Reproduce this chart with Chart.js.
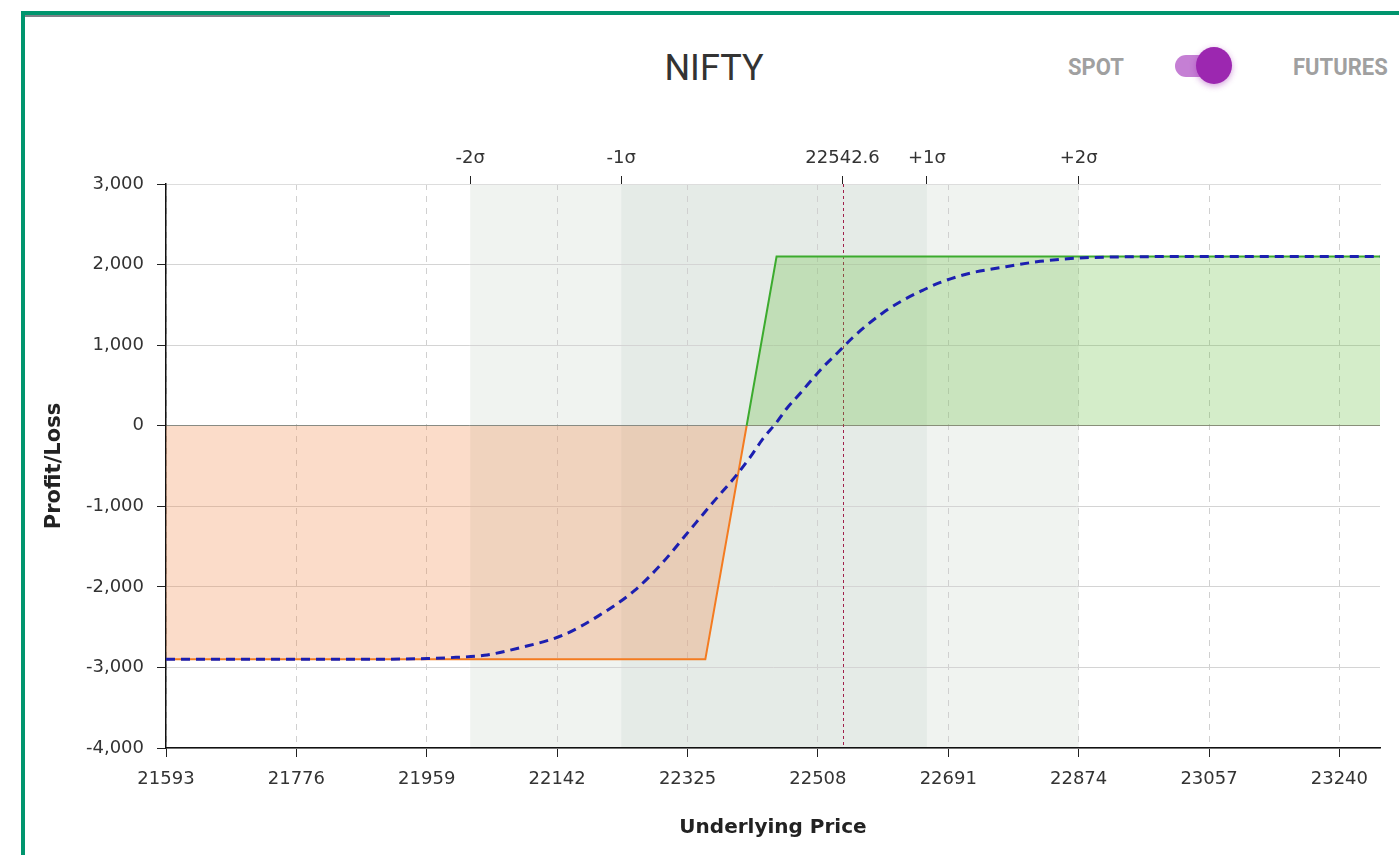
<!DOCTYPE html>
<html>
<head>
<meta charset="utf-8">
<script src="https://cdn.jsdelivr.net/npm/chart.js@4/dist/chart.umd.min.js"></script>
<style>
  body { margin: 0; background: #fff; width: 1399px; height: 855px; overflow: hidden; position: relative; font-family: Roboto, sans-serif; }
  #frame { position: absolute; left: 21px; top: 11px; width: 1378px; height: 844px; border-left: 4px solid #00956e; border-top: 4px solid #00956e; box-sizing: border-box; }
  #bar { position: absolute; left: 25px; top: 15px; width: 365px; height: 2px; background: #7d8288; }
  #title { position: absolute; left: 564px; width: 300px; top: 45px; text-align: center; font-size: 36px; color: #333; line-height: 46px; }
  .opt { position: absolute; top: 53px; font-size: 22px; font-weight: bold; color: #a0a0a0; line-height: 28px; transform: scaleY(1.12); }
  #track { position: absolute; left: 1175px; top: 55px; width: 46px; height: 22px; border-radius: 11px; background: #c57fd4; }
  #knob { position: absolute; left: 1196px; top: 47px; width: 36px; height: 37px; border-radius: 50%; background: #9c27b0; box-shadow: 0 2px 6px rgba(156,39,176,0.45); }
  #wrap { position: absolute; left: 0; top: 0; width: 1399px; height: 855px; }
</style>
</head>
<body>
<div id="frame"></div>
<div id="bar"></div>
<div id="title">NIFTY</div>
<div class="opt" style="left:1068px">SPOT</div>
<div id="track"></div>
<div id="knob"></div>
<div class="opt" style="left:1293px">FUTURES</div>
<div id="wrap"><canvas id="payoffChart"></canvas></div>
<script>
// x axis
const xMin = 21593;
const xMax = 23297;
const xTicks = [21593, 21776, 21959, 22142, 22325, 22508, 22691, 22874, 23057, 23240];
const yTicks = [-4000, -3000, -2000, -1000, 0, 1000, 2000, 3000];
// sigma markers on the top axis
const spot = 22542.6;
const sigmaValues = [22020, 22232, 22542.6, 22661, 22874];
const sigmaLabels = ["-2\u03c3", "-1\u03c3", "22542.6", "+1\u03c3", "+2\u03c3"];

// expiry payoff
const payoffPrices = [21593, 22350, 22408, 22450, 23297];
const payoffValues = [-2900, -2900, 0, 2100, 2100];

// target day curve (dashed)
const curvePrices = [21593, 21900, 21960, 22000, 22040, 22090, 22150, 22200, 22250, 22290, 22325, 22360, 22394, 22413, 22431, 22450, 22464, 22483, 22497, 22515, 22535, 22557, 22577, 22599, 22627, 22655, 22679, 22720, 22763, 22820, 22873, 22950, 23050, 23297];
const curveValues = [-2900, -2898, -2890, -2875, -2850, -2755, -2600, -2360, -2050, -1700, -1330, -960, -610, -390, -160, 40, 210, 400, 545, 725, 900, 1095, 1250, 1400, 1555, 1680, 1775, 1890, 1960, 2040, 2080, 2097, 2100, 2100];

const green = "#3cab2e";
const orange = "#f47b20";
const tickFont = { family: "DejaVu Sans", size: 18 };

const bands = {
  id: "bands",
  beforeDraw(chart) {
    const { ctx, chartArea: a, scales: { x } } = chart;
    ctx.save();
    ctx.fillStyle = "#f0f3f0";
    ctx.fillRect(x.getPixelForValue(sigmaValues[0]), a.top, x.getPixelForValue(sigmaValues[4]) - x.getPixelForValue(sigmaValues[0]), a.bottom - a.top);
    ctx.fillStyle = "#e5ebe7";
    ctx.fillRect(x.getPixelForValue(sigmaValues[1]), a.top, x.getPixelForValue(sigmaValues[3]) - x.getPixelForValue(sigmaValues[1]), a.bottom - a.top);
    ctx.restore();
  },
  beforeDatasetsDraw(chart) {
    const { ctx, chartArea: a, scales: { x } } = chart;
    const px = Math.round(x.getPixelForValue(spot)) + 0.5;
    ctx.save();
    ctx.strokeStyle = "#a0204a";
    ctx.lineWidth = 1;
    ctx.setLineDash([3, 3]);
    ctx.beginPath();
    ctx.moveTo(px, a.top);
    ctx.lineTo(px, a.bottom);
    ctx.stroke();
    ctx.restore();
  }
};

new Chart(document.getElementById("payoffChart"), {
  type: "line",
  data: {
    datasets: [{
      label: "Target",
      data: curvePrices.map((p, i) => ({ x: p, y: curveValues[i] })),
      borderColor: "#1c1fb0",
      borderWidth: 3,
      borderDash: [9, 6],
      cubicInterpolationMode: "monotone",
      pointRadius: 0,
      fill: false
    }, {
      label: "Expiry",
      data: payoffPrices.map((p, i) => ({ x: p, y: payoffValues[i] })),
      borderWidth: 2,
      borderColor: orange,
      segment: {
        borderColor: ctx => (ctx.p0.parsed.y + ctx.p1.parsed.y) > 0 ? green : orange
      },
      tension: 0,
      pointRadius: 0,
      fill: { target: "origin", above: "rgba(100,190,60,0.28)", below: "rgba(240,130,60,0.28)" }
    }]
  },
  options: {
    responsive: true,
    maintainAspectRatio: false,
    animation: false,
    layout: { padding: { left: 30, right: 19, top: 140, bottom: 14 } },
    plugins: { legend: { display: false }, tooltip: { enabled: false } },
    scales: {
      x: {
        type: "linear",
        position: "bottom",
        min: xMin,
        max: xMax,
        afterBuildTicks: s => { s.ticks = xTicks.map(v => ({ value: v })); },
        afterFit: s => { s.height = 93; },
        ticks: { callback: v => String(v), color: "#333", padding: 12, maxRotation: 0, autoSkip: false, font: tickFont },
        grid: { color: "#d0d0d0", tickColor: "#222", tickLength: 9, tickBorderDash: [] },
        border: { color: "#111", width: 1.5, dash: [6, 6] },
        title: { display: true, text: "Underlying Price", color: "#222", font: { family: "DejaVu Sans", size: 20, weight: "bold" }, padding: { top: 4, bottom: 1 } }
      },
      xTop: {
        type: "linear",
        position: "top",
        min: xMin,
        max: xMax,
        afterBuildTicks: s => { s.ticks = sigmaValues.map(v => ({ value: v })); },
        afterFit: s => { s.height = 44; },
        ticks: { callback: (v, i) => sigmaLabels[i], color: "#333", padding: 7, maxRotation: 0, autoSkip: false, font: tickFont },
        grid: { drawOnChartArea: false, tickColor: "#222", tickLength: 8 },
        border: { color: "#ddd", width: 1 }
      },
      y: {
        min: -4000,
        max: 3000,
        afterBuildTicks: s => { s.ticks = yTicks.map(v => ({ value: v })); },
        afterFit: s => { s.width = 136; },
        ticks: { callback: v => v.toLocaleString("en-US"), color: "#333", padding: 13, font: tickFont },
        grid: { color: ctx => ctx.tick && ctx.tick.value === 0 ? "#8a8a8a" : "#d4d4d4", tickColor: "#222", tickLength: 9 },
        border: { color: "#111", width: 1.5 },
        title: { display: true, text: "Profit/Loss", color: "#222", font: { family: "DejaVu Sans", size: 21, weight: "bold" }, padding: { top: 12, bottom: 4 } }
      }
    }
  },
  plugins: [bands]
});
</script>
</body>
</html>
